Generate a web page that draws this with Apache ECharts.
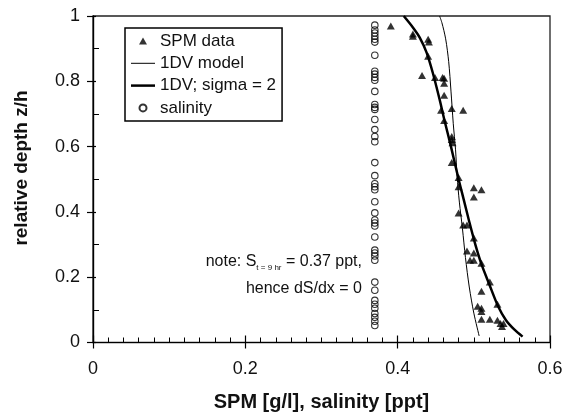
<!DOCTYPE html>
<html>
<head>
<meta charset="utf-8">
<script src="https://cdn.jsdelivr.net/npm/echarts@6/dist/echarts.min.js"></script>
<style>html,body{margin:0;padding:0;background:#fff}#c{width:570px;height:420px}</style>
</head>
<body>
<div id="c"></div>
<script>
// SPM data: [SPM g/l, relative depth]
const spmData = [
  [0.391,0.969],[0.420,0.945],[0.420,0.938],[0.440,0.929],[0.441,0.920],[0.440,0.877],
  [0.432,0.818],[0.449,0.812],[0.459,0.812],[0.461,0.809],[0.461,0.794],[0.461,0.757],
  [0.457,0.711],[0.471,0.717],[0.486,0.711],[0.461,0.680],[0.471,0.631],[0.471,0.622],
  [0.472,0.612],[0.471,0.551],[0.480,0.505],[0.480,0.477],[0.500,0.474],[0.510,0.468],
  [0.500,0.446],[0.480,0.397],[0.486,0.360],[0.491,0.360],[0.500,0.320],[0.491,0.280],
  [0.500,0.274],[0.495,0.252],[0.500,0.252],[0.510,0.243],[0.521,0.185],[0.510,0.157],
  [0.531,0.117],[0.505,0.111],[0.510,0.105],[0.510,0.095],[0.510,0.071],[0.521,0.071],
  [0.531,0.068],[0.535,0.058],[0.537,0.049],[0.539,0.058]
];
// 1DV model (thin line)
const modelLine = [
  [0.455,1.0],[0.458,0.98],[0.463,0.93],[0.467,0.86],[0.470,0.77],[0.473,0.67],
  [0.476,0.59],[0.478,0.51],[0.481,0.43],[0.485,0.35],[0.489,0.26],[0.494,0.17],
  [0.500,0.09],[0.507,0.02]
];
// 1DV; sigma = 2 (thick line)
const sigmaLine = [
  [0.408,1.0],[0.420,0.965],[0.429,0.934],[0.438,0.888],[0.446,0.827],[0.455,0.745],
  [0.4615,0.68],[0.470,0.60],[0.480,0.50],[0.4865,0.44],[0.494,0.37],[0.502,0.30],
  [0.510,0.24],[0.520,0.18],[0.532,0.11],[0.542,0.069],[0.553,0.04],[0.564,0.018]
];
// salinity (ppt) and relative depths
const salinityValue = 0.37;
const salinityDepths = [
  0.972,0.957,0.948,0.938,0.929,0.920,0.880,0.831,0.822,0.812,0.803,0.769,0.729,0.720,
  0.714,0.683,0.652,0.631,0.615,0.551,0.511,0.486,0.477,0.468,0.431,0.397,0.375,0.366,
  0.357,0.323,0.283,0.274,0.265,0.252,0.185,0.160,0.129,0.117,0.105,0.089,0.077,0.065,0.052
];
const xTicks = {min:0, max:0.6, interval:0.2};
const yTicks = {min:0, max:1, interval:0.2};

const FONT = '"Liberation Sans", Arial, Helvetica, sans-serif';
const chart = echarts.init(document.getElementById('c'), null, {renderer:'canvas'});

const baseX = {
  type:'value', min:xTicks.min, max:xTicks.max, interval:xTicks.interval,
  position:'bottom', splitLine:{show:false},
  axisLine:{lineStyle:{color:'#000', width:1.2}}
};
const baseY = {
  type:'value', min:yTicks.min, max:yTicks.max, interval:yTicks.interval,
  position:'left', splitLine:{show:false},
  axisLine:{lineStyle:{color:'#000', width:1.2}}
};

chart.setOption({
  animation:false,
  backgroundColor:'#fff',
  textStyle:{fontFamily:FONT},
  grid:{left:93, right:20, top:16, bottom:77.5, show:true, borderColor:'#222', borderWidth:1.3, backgroundColor:'transparent'},
  xAxis:[
    Object.assign({}, baseX, {
      axisTick:{show:true, inside:false, length:6, lineStyle:{color:'#000', width:1.2}},
      axisLabel:{color:'#111', fontSize:18, margin:18, fontFamily:FONT},
      name:'SPM [g/l], salinity [ppt]', nameLocation:'middle', nameGap:50,
      nameTextStyle:{color:'#111', fontSize:20, fontWeight:'bold', fontFamily:FONT}
    }),
    Object.assign({}, baseX, {
      axisTick:{show:true, inside:true, length:7, lineStyle:{color:'#000', width:1.2}},
      minorTick:{show:true, splitNumber:10, length:5, lineStyle:{color:'#000', width:1}},
      axisLabel:{show:false}
    })
  ],
  yAxis:[
    Object.assign({}, baseY, {
      axisTick:{show:true, inside:false, length:6, lineStyle:{color:'#000', width:1.2}},
      axisLabel:{color:'#111', fontSize:18, margin:13, fontFamily:FONT}
    }),
    Object.assign({}, baseY, {
      axisTick:{show:true, inside:true, length:3, lineStyle:{color:'#000', width:1.2}},
      minorTick:{show:true, splitNumber:2, length:6, lineStyle:{color:'#000', width:1}},
      axisLabel:{show:false}
    })
  ],
  legend:{
    orient:'vertical', left:125, top:28,
    backgroundColor:'#fff', borderColor:'#000', borderWidth:1.5,
    padding:[4,6,4,6], itemWidth:24, itemHeight:7, itemGap:4.3,
    textStyle:{fontSize:17, color:'#111', fontFamily:FONT, lineHeight:18},
    data:[
      {name:'SPM data', icon:'path://M4 0L8 7L0 7Z'},
      {name:'1DV model', icon:'path://M0 0H24V1H0Z'},
      {name:'1DV; sigma = 2', icon:'path://M0 0H24V2.5H0Z'},
      {name:'salinity', icon:'circle'}
    ]
  },
  series:[
    {
      name:'salinity', type:'scatter', xAxisIndex:0, yAxisIndex:0,
      symbol:'circle', symbolSize:6.5,
      itemStyle:{color:'rgba(255,255,255,0)', borderColor:'#000', borderWidth:1.1},
      data: salinityDepths.map(d => [salinityValue, d]), z:3
    },
    {
      name:'1DV model', type:'line', xAxisIndex:0, yAxisIndex:0,
      symbol:'none', smooth:0.3, color:'#000',
      lineStyle:{color:'#000', width:1}, data:modelLine, z:4
    },
    {
      name:'1DV; sigma = 2', type:'line', xAxisIndex:0, yAxisIndex:0,
      symbol:'none', smooth:0.3, color:'#000',
      lineStyle:{color:'#000', width:2.5}, data:sigmaLine, z:4
    },
    {
      name:'SPM data', type:'scatter', xAxisIndex:0, yAxisIndex:0,
      symbol:'triangle', symbolSize:[8,7],
      itemStyle:{color:'#000'}, data:spmData, z:5
    }
  ],
  graphic:[
    {type:'text', x:22, y:168, rotation:Math.PI/2, z:10,
     style:{text:'relative depth z/h', font:'bold 19px ' + FONT, fill:'#111', textAlign:'center', textVerticalAlign:'middle'}},
    {type:'text', right:570-362, top:254, z:10,
     style:{
       text:'{a|note: S}{s|t = 9 hr}{a| = 0.37 ppt,}',
       rich:{
         a:{fontSize:16, fontFamily:FONT, fill:'#111', color:'#111', lineHeight:20, verticalAlign:'middle'},
         s:{fontSize:8, fontFamily:FONT, fill:'#111', color:'#111', lineHeight:20, verticalAlign:'bottom'}
       },
       textAlign:'right'
     }},
    {type:'text', right:570-362, top:281, z:10,
     style:{text:'hence dS/dx = 0', font:'16px ' + FONT, fill:'#111', textAlign:'right'}}
  ]
});
</script>
</body>
</html>
